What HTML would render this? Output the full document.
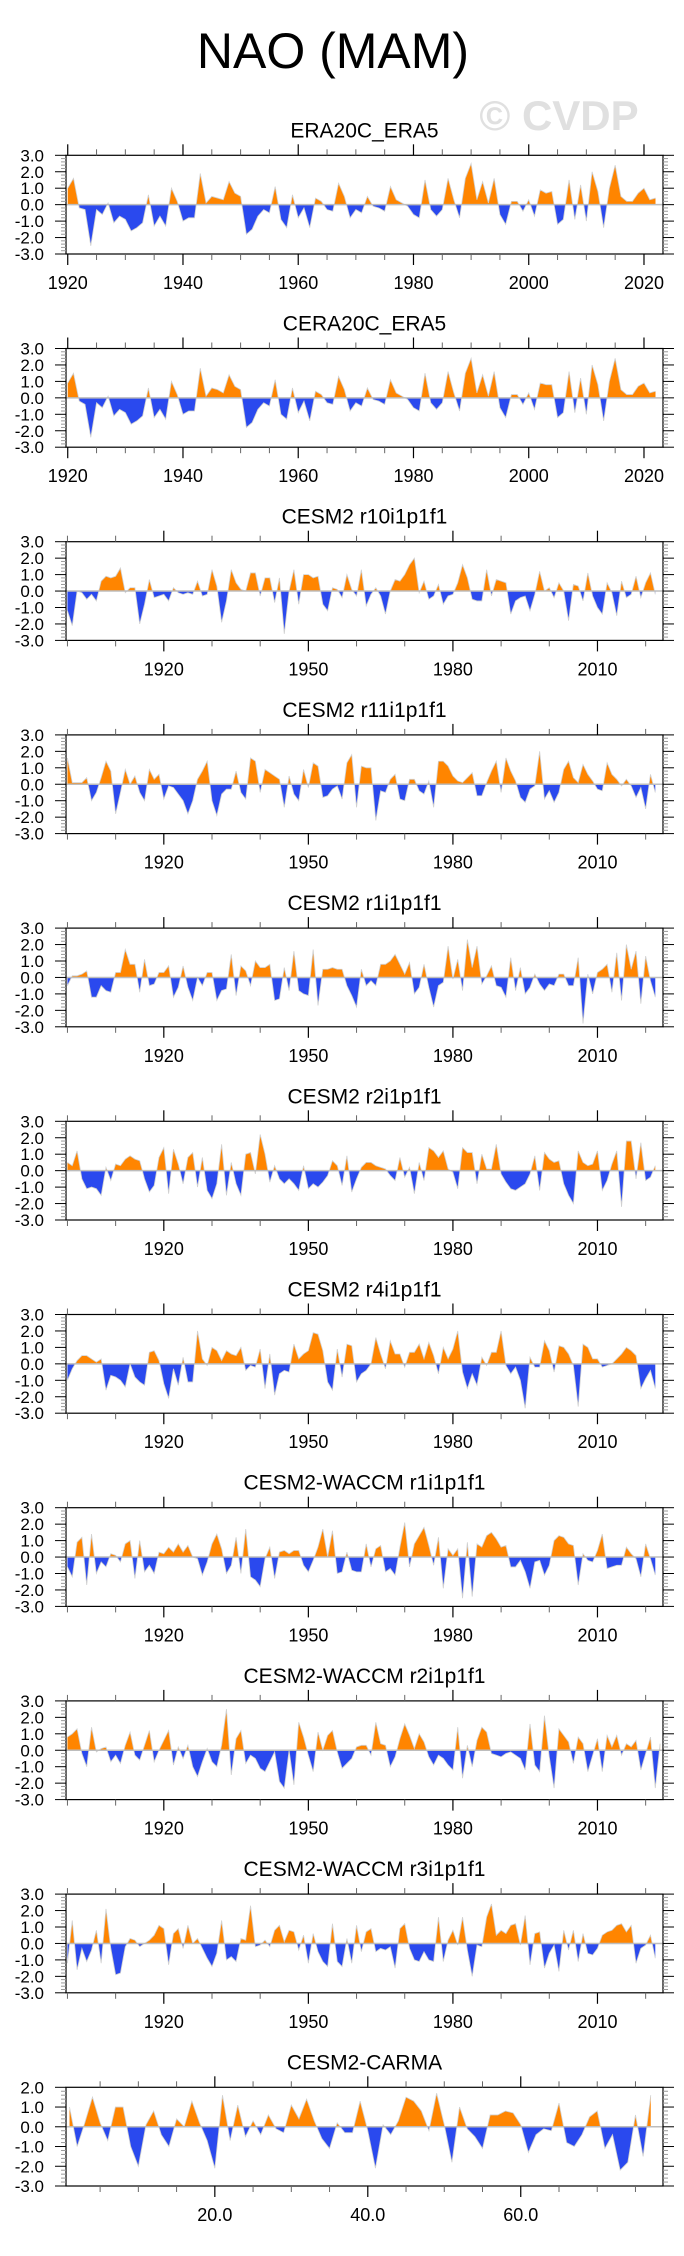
<!DOCTYPE html>
<html><head><meta charset="utf-8">
<style>
html,body{margin:0;padding:0;background:#fff;}
body{width:684px;height:2251px;overflow:hidden;font-family:"Liberation Sans",sans-serif;}
svg text{font-family:"Liberation Sans",sans-serif;}
</style></head>
<body>
<svg id="chart" width="684" height="2251" viewBox="0 0 684 2251" xmlns="http://www.w3.org/2000/svg">
<text x="333" y="68" font-size="50" text-anchor="middle" fill="#000">NAO (MAM)</text>
<text x="559" y="130" font-size="42" font-weight="bold" text-anchor="middle" fill="#e0e0e0">© CVDP</text>
</svg>
<script>
const panelTitles = ["ERA20C_ERA5","CERA20C_ERA5","CESM2 r10i1p1f1","CESM2 r11i1p1f1","CESM2 r1i1p1f1","CESM2 r2i1p1f1","CESM2 r4i1p1f1","CESM2-WACCM r1i1p1f1","CESM2-WACCM r2i1p1f1","CESM2-WACCM r3i1p1f1","CESM2-CARMA"];
const obsStart = 1920;
const modelStart = 1900;
const carmaStart = 1;
const obsTickLabels = [1920,1940,1960,1980,2000,2020];
const modelTickLabels = [1920,1950,1980,2010];
const carmaTickLabels = ["20.0","40.0","60.0"];
const yTickLabels = ["3.0","2.0","1.0","0.0","-1.0","-2.0","-3.0"];
const carmaYTickLabels = ["2.0","1.0","0.0","-1.0","-2.0","-3.0"];

const era20c = [1.0,1.6,-0.2,-0.3,-2.5,-0.3,-0.6,0.1,-1.1,-0.7,-0.9,-1.6,-1.4,-1.1,0.6,-1.3,-0.7,-1.3,1.0,0.2,-1.0,-0.8,-0.8,1.9,0.1,0.5,0.4,0.3,1.4,0.7,0.5,-1.8,-1.5,-0.7,-0.3,-0.5,1.1,-0.9,-1.4,0.6,-0.8,-0.2,-1.4,0.4,0.2,-0.3,-0.4,1.3,0.5,-0.8,-0.3,-0.5,0.5,-0.1,-0.2,-0.4,1.1,0.3,0.1,-0.1,-0.6,-0.8,1.5,-0.3,-0.7,-0.3,1.6,0.3,-0.8,1.6,2.5,0.3,1.4,0.1,1.6,-0.6,-1.2,0.2,0.2,-0.4,0.3,-0.7,0.9,0.7,0.8,-1.2,-0.9,1.5,-0.9,1.2,-1.0,2.0,0.8,-1.4,1.0,2.4,0.5,0.2,0.2,0.7,1.0,0.3,0.4];
const cera20c = [0.9,1.5,-0.2,-0.4,-2.4,-0.3,-0.6,0.1,-1.1,-0.7,-0.9,-1.6,-1.4,-1.1,0.6,-1.2,-0.7,-1.3,1.0,0.2,-1.0,-0.8,-0.8,1.8,0.1,0.6,0.5,0.3,1.4,0.7,0.5,-1.8,-1.5,-0.7,-0.3,-0.5,1.1,-1.0,-1.3,0.6,-0.9,-0.2,-1.4,0.4,0.2,-0.3,-0.4,1.3,0.5,-0.8,-0.3,-0.5,0.6,-0.1,-0.2,-0.4,1.1,0.3,0.1,-0.1,-0.6,-0.8,1.5,-0.3,-0.7,-0.3,1.6,0.3,-0.8,1.5,2.4,0.3,1.4,0.1,1.6,-0.6,-1.2,0.2,0.2,-0.4,0.3,-0.7,0.9,0.8,0.8,-1.2,-0.9,1.6,-0.9,1.2,-1.0,2.0,0.8,-1.4,1.0,2.4,0.5,0.2,0.2,0.7,0.9,0.3,0.4];
const r10 = [-1.2,-2.1,0.0,-0.1,-0.5,-0.2,-0.6,0.6,0.9,0.8,0.9,1.4,-0.1,0.2,0.2,-2.0,-0.8,0.7,-0.4,-0.3,-0.2,-0.6,0.2,-0.1,-0.2,-0.1,-0.2,0.6,-0.3,-0.2,1.3,0.3,-1.9,-0.6,1.3,0.5,0.1,0.0,1.1,1.1,-0.3,0.8,0.8,-0.7,0.8,-2.6,0.0,1.3,-0.8,1.0,1.0,0.8,0.9,-0.8,-1.2,0.2,0.1,-0.4,1.0,0.1,-0.3,1.3,-0.9,-0.2,0.2,-0.3,-1.4,0.0,0.7,0.6,1.0,1.6,2.0,-0.1,0.6,-0.5,-0.3,0.4,-0.8,-0.3,-0.2,0.5,1.6,0.8,-0.5,-0.6,-0.6,1.3,-0.3,0.7,0.6,0.5,-1.4,-0.6,-0.4,-0.3,-1.2,-0.2,1.2,0.0,0.2,-0.4,0.5,0.0,-1.8,0.4,0.3,-0.6,1.1,-0.3,-1.0,-1.4,0.5,-0.1,-1.5,0.6,-0.4,-0.2,0.9,-0.4,0.5,1.1,-0.2];
const r11 = [1.6,0.1,0.1,0.1,0.4,-1.0,-0.5,0.4,1.4,0.8,-1.8,-0.5,0.9,0.0,0.5,-0.5,-1.0,0.9,0.3,0.6,-0.9,-0.1,-0.2,-0.6,-1.0,-1.8,-1.0,0.3,0.8,1.4,-1.0,-1.9,-0.6,-0.3,-0.3,0.8,-0.5,-0.9,1.6,1.4,-0.5,0.9,0.7,0.5,0.3,-1.4,0.5,-0.6,-1.0,0.9,-0.2,1.3,1.1,-0.8,-0.7,-0.3,-0.1,-0.9,1.3,1.8,-1.4,1.1,1.0,1.0,-2.2,-0.4,-0.5,0.3,0.6,-0.9,-1.0,0.3,0.3,-0.4,-0.6,0.2,-1.4,1.4,1.4,1.1,0.5,0.2,0.1,0.4,0.7,-0.7,-0.7,0.1,0.8,1.4,-0.5,1.6,0.8,0.2,-0.8,-1.1,-0.3,-0.1,2.0,-0.9,-0.4,-1.1,-0.5,0.9,1.4,0.4,0.1,1.2,0.6,0.2,-0.3,-0.4,1.3,0.6,0.3,-0.1,0.3,-0.1,-0.8,-0.2,-1.5,0.6,-0.5];
const r1 = [-0.5,0.1,0.1,0.2,0.4,-1.2,-1.2,-0.5,-0.8,-0.9,0.3,0.3,1.7,0.8,0.8,-0.9,1.1,-0.5,-0.4,0.3,0.3,0.7,-1.2,-0.6,0.7,-0.6,-1.4,0.0,-0.5,0.3,0.3,-1.4,-0.8,-0.7,1.4,-1.1,0.7,0.4,-0.5,1.0,0.6,0.6,0.8,-1.4,-1.3,0.6,-0.8,1.6,-0.8,-1.0,-1.1,1.7,-1.7,0.5,0.5,0.6,0.5,0.5,-0.5,-1.1,-1.8,0.5,-0.5,-0.2,-0.5,0.8,0.8,1.0,1.4,0.8,0.2,0.9,-1.0,-0.6,0.8,-0.6,-1.8,-0.5,-0.3,1.9,-0.1,1.1,-0.8,2.3,0.6,1.9,-0.4,0.1,0.7,-0.5,-0.6,-1.2,1.2,-0.8,0.6,-1.0,-0.6,0.2,-0.4,-0.8,-0.4,-0.5,0.2,0.2,-0.5,-0.5,1.2,-2.8,0.2,-1.0,0.3,0.5,0.8,-0.9,1.5,-1.4,2.0,0.5,1.6,-1.6,1.3,-0.2,-1.2];
const r2 = [0.5,0.3,1.2,-0.5,-1.1,-1.0,-1.1,-1.5,0.2,-0.6,0.4,0.3,0.7,0.9,0.7,0.6,-0.5,-1.3,-0.9,0.8,1.4,-1.4,1.3,0.4,-0.8,0.8,1.1,-1.0,0.8,-1.2,-1.7,-0.8,1.6,-1.5,0.5,-0.8,-1.5,1.0,1.1,-0.2,2.2,1.0,-0.7,0.3,-0.5,-0.8,-0.5,-0.8,-1.2,0.3,-1.1,-0.8,-1.0,-0.7,-0.3,0.6,0.3,-0.9,0.9,-1.3,-0.5,0.2,0.5,0.5,0.3,0.2,0.1,-0.3,-0.6,0.8,-0.4,0.2,-1.4,0.5,-0.6,1.4,1.2,0.8,1.2,0.1,-0.1,-1.1,1.4,1.1,1.1,-0.8,1.0,0.1,0.1,1.6,-0.2,-0.7,-1.1,-1.2,-1.0,-0.8,-0.2,0.9,-1.2,1.1,0.7,0.5,0.6,-0.8,-1.5,-2.0,1.2,0.5,0.3,0.4,1.2,-1.2,-0.6,0.4,1.2,-2.2,1.8,1.8,-0.5,1.7,-0.6,-0.4,0.3];
const r4 = [-1.0,-0.3,0.2,0.5,0.5,0.3,0.1,0.3,-1.6,-0.7,-0.8,-1.0,-1.4,0.0,-0.8,-1.1,-1.3,0.7,0.8,0.2,-1.2,-2.1,-0.3,-1.3,0.4,-1.1,-1.1,2.0,0.3,-0.1,1.0,0.8,0.2,0.8,0.6,0.5,1.0,-0.4,-0.1,-0.2,0.9,-1.5,0.6,-1.9,-0.6,-0.4,-0.5,1.2,0.3,0.6,0.8,1.9,1.8,0.8,-1.1,-1.6,0.9,-0.8,1.2,1.1,-1.1,-0.6,-0.4,0.0,1.6,0.6,-0.3,1.4,0.6,0.6,-0.2,0.7,0.7,1.2,0.3,1.3,0.5,-0.6,1.0,0.3,0.9,2.0,-0.5,-1.5,-0.6,-1.3,0.4,-0.1,0.7,0.7,2.0,-0.1,-0.6,-0.2,-1.0,-2.7,0.4,-0.2,-0.2,1.4,0.8,-0.5,1.1,1.0,0.6,-0.1,-2.6,1.2,1.0,0.3,0.3,-0.2,-0.1,0.0,0.3,0.6,1.0,0.8,0.5,-1.5,-0.9,-0.4,-1.5];
const waccmR1 = [-0.6,-1.2,0.9,1.2,-1.7,1.4,-1.0,-0.3,-0.6,0.2,0.1,-0.3,0.8,1.0,-1.3,1.0,-0.9,-0.5,-1.0,0.3,0.2,0.6,0.3,0.8,0.3,0.7,0.0,-0.1,-1.1,-0.3,0.8,1.4,0.5,-1.0,-0.5,1.2,-1.0,1.7,-1.2,-1.4,-1.8,-0.1,0.6,-1.3,0.3,0.4,0.2,0.4,0.4,-0.5,-0.9,-0.2,0.6,1.7,0.0,1.6,-1.0,-0.9,0.3,-0.8,-0.9,-0.9,0.8,-0.6,0.5,0.7,-0.9,-0.7,-1.1,0.6,2.1,-0.6,0.8,1.3,1.8,0.7,-0.5,1.2,-1.9,0.5,0.1,0.5,-2.5,0.9,-2.4,0.8,0.6,1.3,1.5,1.1,0.6,0.7,-0.6,-0.6,-0.2,-0.9,-1.9,-0.3,-0.2,-1.1,-0.5,1.0,1.3,1.2,0.8,0.7,-1.7,0.2,-0.2,-0.3,0.4,1.4,-0.7,-0.6,-0.5,-0.5,0.6,0.2,-0.1,-1.2,0.8,-0.1,-1.1];
const waccmR2 = [0.8,1.0,1.3,-0.2,-1.0,1.4,-0.1,0.1,0.2,-0.7,-0.3,-0.8,0.3,1.1,-0.3,-0.6,0.3,1.2,-0.7,0.0,0.6,1.2,-0.9,0.2,-0.5,0.3,-1.0,-1.6,-0.7,0.1,-0.7,-1.0,0.3,2.5,-1.5,0.7,1.2,-0.8,-0.3,-0.5,-1.1,-1.3,-0.7,-0.1,-1.9,-2.3,0.0,-2.1,1.7,0.8,-0.3,-1.3,1.1,0.0,0.9,1.2,-0.1,-1.1,-0.8,-0.5,0.2,0.3,0.3,-0.3,1.7,0.4,0.3,-1.0,-0.4,0.7,1.6,0.9,0.1,1.0,0.5,-0.4,-0.9,-0.3,-0.5,-0.9,-1.2,1.4,-1.7,0.3,-1.0,0.6,1.4,1.1,-0.2,-0.3,-0.4,-0.2,-0.1,-0.3,-0.5,-1.2,1.6,-0.9,-1.3,2.1,-0.4,-2.3,1.3,0.9,0.5,-0.8,0.8,0.4,-1.3,-0.3,0.7,-1.3,0.9,0.2,0.9,-0.3,0.4,0.2,0.6,-1.2,-0.2,0.8,-2.3,0.4];
const waccmR3 = [-1.2,1.4,-1.6,-0.3,-1.1,-0.4,0.8,-1.2,2.1,-0.3,-1.9,-1.8,-0.2,0.3,0.2,-0.2,0.0,0.2,0.5,1.1,0.9,-1.3,0.6,0.9,-0.3,1.1,0.0,0.3,-0.3,-0.9,-1.4,-0.6,1.4,-1.0,-0.8,-1.1,0.3,0.2,2.3,-0.2,-0.1,0.2,-0.2,0.8,1.1,0.1,0.8,0.7,-0.4,0.5,-1.2,0.6,-0.5,-1.1,-1.4,1.2,-1.1,-1.4,0.3,-1.2,1.1,-0.5,0.7,0.9,-0.5,-0.3,-0.4,-0.2,-1.5,0.9,1.2,-0.3,-1.0,-1.1,-0.5,-1.0,-1.1,1.6,-1.1,0.2,0.8,-0.1,1.6,-0.4,-2.0,-0.1,-0.2,1.6,2.4,0.5,0.8,0.6,1.1,1.2,-0.1,1.7,-1.3,0.6,0.7,-1.5,-0.6,-0.1,-1.7,0.8,-0.4,0.8,-1.1,0.6,-0.6,-0.7,-0.3,0.5,0.7,0.8,1.1,1.2,0.7,1.1,-1.2,-0.3,-0.1,0.5,-0.9];
const carma = [1.0,-1.0,0.2,1.5,0.2,-0.7,1.0,1.0,-1.0,-2.0,0.1,0.8,-0.4,-1.0,0.4,0.0,1.3,0.2,-0.7,-2.1,1.6,-0.7,1.1,-0.5,0.3,-0.4,0.6,-0.1,-0.3,1.1,0.4,1.4,0.3,-0.6,-1.1,0.2,-0.3,-0.3,1.3,-0.2,-2.1,0.1,-0.4,0.3,1.5,1.3,0.8,-0.2,1.7,0.1,-1.8,1.0,-0.1,-0.5,-1.1,0.6,0.6,0.8,0.7,0.1,-1.3,-0.4,-0.1,-0.2,1.2,-0.8,-1.0,-0.4,0.5,0.8,-1.1,-0.4,-2.2,-1.8,0.6,-1.5,1.6];

const seriesList = [era20c,cera20c,r10,r11,r1,r2,r4,waccmR1,waccmR2,waccmR3,carma];
const NS = "http://www.w3.org/2000/svg";
const svg = document.getElementById("chart");
const L = 66, R = 663, H = 98.7, TOP0 = 155.3, STEP = 193.2;
const ORANGE = "#ff8500", BLUE = "#2a49ee";

function mk(tag, attrs, parent){
  const e = document.createElementNS(NS, tag);
  for (const k in attrs) e.setAttribute(k, attrs[k]);
  (parent || svg).appendChild(e);
  return e;
}

seriesList.forEach(function(vals, p){
  const top = TOP0 + p*STEP, bot = top + H;
  let x0, x1, xs, labels, labelPos, majors, minors, ymax, ymin, ylabels;
  if (p < 2){
    x0 = 1919.7; x1 = 2023.3;
    xs = vals.map(function(_, i){ return obsStart + i; });
    labels = obsTickLabels.map(String); labelPos = obsTickLabels.slice();
    majors = obsTickLabels.slice(); minors = [];
    for (let y = 1920; y <= 2020; y += 5) if (y % 20) minors.push(y);
  } else if (p < 10){
    x0 = 1899.7; x1 = 2023.6;
    xs = vals.map(function(_, i){ return modelStart + i; });
    labels = modelTickLabels.map(String); labelPos = modelTickLabels.slice();
    majors = modelTickLabels.slice(); minors = [1900,1910,1930,1940,1960,1970,1990,2000,2020];
  } else {
    x0 = 0.54; x1 = 78.6;
    xs = vals.map(function(_, i){ return carmaStart + i; });
    labels = carmaTickLabels.slice(); labelPos = carmaTickLabels.map(Number);
    majors = labelPos.slice(); minors = [5,10,15,25,30,35,45,50,55,65,70,75];
  }
  if (p === 10){ ymax = 2; ymin = -3; ylabels = carmaYTickLabels; }
  else { ymax = 3; ymin = -3; ylabels = yTickLabels; }
  const sx = function(v){ return L + (v - x0) / (x1 - x0) * (R - L); };
  const sy = function(v){ return top + (ymax - v) / (ymax - ymin) * H; };

  const g = mk("g", {});
  
  

  const t = mk("text", {x: (L+R)/2, y: top - 18, "font-size": 21, "text-anchor": "middle", fill: "#000"}, g);
  t.textContent = panelTitles[p];
  
  

  const cid = "c" + p;
  const defs = mk("defs", {}, g);
  const cpA = mk("clipPath", {id: cid + "a"}, defs);
  mk("rect", {x: L, y: top, width: R - L, height: sy(0) - top}, cpA);
  const cpB = mk("clipPath", {id: cid + "b"}, defs);
  mk("rect", {x: L, y: sy(0), width: R - L, height: bot - sy(0)}, cpB);

  let d = "M" + sx(xs[0]).toFixed(2) + "," + sy(0).toFixed(2);
  vals.forEach(function(v, i){ d += " L" + sx(xs[i]).toFixed(2) + "," + sy(v).toFixed(2); });
  d += " L" + sx(xs[xs.length-1]).toFixed(2) + "," + sy(0).toFixed(2) + " Z";

  const pos = mk("path", {d: d, fill: ORANGE, "clip-path": "url(#" + cid + "a)"}, g);
  
  
  const neg = mk("path", {d: d, fill: BLUE, "clip-path": "url(#" + cid + "b)"}, g);
  
  
  let ld = "";
  vals.forEach(function(v, i){ ld += (i ? " L" : "M") + sx(xs[i]).toFixed(2) + "," + sy(v).toFixed(2); });
  mk("path", {d: ld, fill: "none", stroke: "#d0d0d0", "stroke-width": 0.8}, g);
  const zl = mk("line", {x1: L, x2: R, y1: sy(0), y2: sy(0), stroke: "#bdbdbd", "stroke-width": 1.5}, g);
  
  

  const frame = mk("rect", {x: L, y: top, width: R - L, height: H, fill: "none", stroke: "#000", "stroke-width": 1.2}, g);
  
  

  for (let v = ymin; v <= ymax + 1e-9; v += 0.2){
    const major = Math.abs(v - Math.round(v)) < 1e-6;
    const y = sy(v), len = major ? 11 : 5, col = major ? "#000" : "#999";
    mk("line", {x1: L - len, x2: L, y1: y, y2: y, stroke: col, "stroke-width": 1}, g);
    mk("line", {x1: R, x2: R + len, y1: y, y2: y, stroke: col, "stroke-width": 1}, g);
  }
  ylabels.forEach(function(lbl){
    const yl = mk("text", {x: 44, y: sy(Number(lbl)) + 6, "font-size": 17, "text-anchor": "end", fill: "#000"}, g);
    yl.textContent = lbl;
    
    
  });
  majors.forEach(function(v){
    mk("line", {x1: sx(v), x2: sx(v), y1: top - 11, y2: top, stroke: "#000", "stroke-width": 1.2}, g);
    mk("line", {x1: sx(v), x2: sx(v), y1: bot, y2: bot + 11, stroke: "#000", "stroke-width": 1.2}, g);
  });
  minors.forEach(function(v){
    mk("line", {x1: sx(v), x2: sx(v), y1: top - 6, y2: top, stroke: "#666", "stroke-width": 1}, g);
    mk("line", {x1: sx(v), x2: sx(v), y1: bot, y2: bot + 6, stroke: "#666", "stroke-width": 1}, g);
  });
  labels.forEach(function(lbl, i){
    const xl = mk("text", {x: sx(labelPos[i]), y: bot + 35, "font-size": 18, "text-anchor": "middle", fill: "#000"}, g);
    xl.textContent = lbl;
    
    
  });
});
</script>
</body></html>
